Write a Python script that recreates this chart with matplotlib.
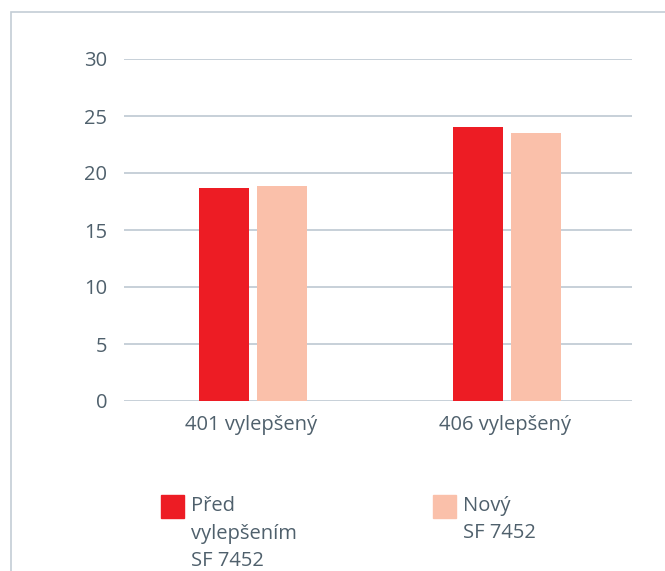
import numpy as np
import matplotlib.pyplot as plt
from matplotlib.patches import Rectangle

# Data
kategorie = ['401 vylepšený', '406 vylepšený']
pred_vylepsenim = [18.7, 24.0]
novy_sf = [18.9, 23.5]
nazvy_serii = ['Před\nvylepšením\nSF 7452', 'Nový\nSF 7452']
barvy = ['#ED1C24', '#FAC0AA']

plt.rcParams['font.family'] = ['Open Sans', 'DejaVu Sans']
text_barva = '#4F606C'
mrizka_barva = '#C3CDD5'

W, H = 665, 571
fig = plt.figure(figsize=(W / 100, H / 100), dpi=100)

# ramecek (jen levy a horni okraj je videt)
fig.patches.append(Rectangle((11 / W, -0.1), 1.2, 1 - 12 / H + 0.1,
                             transform=fig.transFigure, fill=False,
                             edgecolor=mrizka_barva, linewidth=1.2))

ax = fig.add_axes([124 / W, 1 - 401 / H, (632 - 124) / W, (401 - 59) / H])

x = np.arange(len(kategorie))
sirka = 0.197
mezera = 0.028
posun = 0.008
ax.bar(x + posun - (sirka + mezera) / 2, pred_vylepsenim, width=sirka, color=barvy[0], zorder=3)
ax.bar(x + posun + (sirka + mezera) / 2, novy_sf, width=sirka, color=barvy[1], zorder=3)

ax.set_xlim(-0.5, 1.5)
ax.set_ylim(0, 30)
ax.set_yticks(np.arange(0, 31, 5))
ax.yaxis.grid(True, color=mrizka_barva, linewidth=1.3, zorder=0)
ax.set_xticks(x)
ax.set_xticklabels(kategorie)
ax.tick_params(axis='both', length=0, labelsize=14.5, colors=text_barva)
ax.tick_params(axis='y', pad=12)
ax.tick_params(axis='x', pad=10)
for s in ax.spines.values():
    s.set_visible(False)

# legenda
leg_x = [161, 433]
for lx, nazev, barva in zip(leg_x, nazvy_serii, barvy):
    fig.patches.append(Rectangle((lx / W, 1 - 518 / H), 23 / W, 23 / H,
                                 transform=fig.transFigure, color=barva))
    fig.text((lx + 30) / W, 1 - 496 / H, nazev, ha='left', va='top',
             fontsize=14.5, color=text_barva, linespacing=1.5)

fig.savefig('out.png', dpi=100)
